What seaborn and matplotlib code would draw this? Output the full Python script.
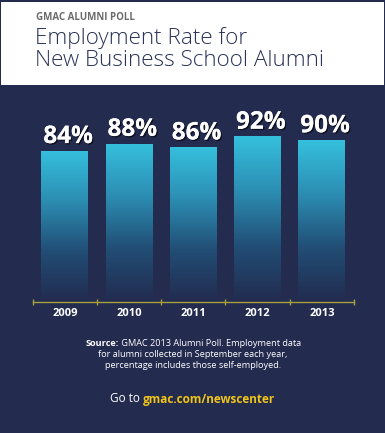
import numpy as np
import pandas as pd
import matplotlib
matplotlib.use("Agg")
import matplotlib.pyplot as plt
import matplotlib.patheffects as pe
from matplotlib.colors import LinearSegmentedColormap
from matplotlib.patches import Rectangle
import seaborn as sns

# datos
years = ["2009", "2010", "2011", "2012", "2013"]
rates = [84, 88, 86, 92, 90]
rate_labels = ["84%", "88%", "86%", "92%", "90%"]

bg = "#232b4f"
navy_text = "#2b3358"
bar_top = "#35c0dd"
gold = "#a59f3c"

sns.set_theme(style="white")
plt.rcParams['font.family'] = ['Open Sans', 'DejaVu Sans']

fig = plt.figure(figsize=(3.85, 4.33), dpi=100, facecolor=bg)

# cabecera blanca
fig.patches.append(Rectangle((1 / 385, 1 - 85 / 433), 383 / 385, 83 / 433,
                             transform=fig.transFigure, facecolor="white",
                             edgecolor="none", zorder=0))
fig.text(36 / 385, 1 - 17 / 433, "GMAC ALUMNI POLL", color="#6b6b6b",
         fontsize=7, fontweight="bold", va="center", ha="left")
fig.text(35 / 385, 1 - 38 / 433, "Employment Rate for", color=navy_text,
         fontsize=16.2, fontweight="light", va="center", ha="left")
fig.text(35 / 385, 1 - 60 / 433, "New Business School Alumni", color=navy_text,
         fontsize=16.2, fontweight="light", va="center", ha="left")

# grafico de barras
ax = fig.add_axes([32.7 / 385, 1 - 302 / 433, 321.3 / 385, 192 / 433])
ax.set_facecolor(bg)
df = pd.DataFrame({"year": years, "rate": rates})
sns.barplot(data=df, x="year", y="rate", ax=ax, width=0.73,
            color=bar_top, saturation=1, edgecolor="none")

# degradado en cada barra
cmap = LinearSegmentedColormap.from_list("g", [bg, "#214d75", "#2c8db2", bar_top], N=512)
grad = np.linspace(0, 1, 400).reshape(-1, 1)
for p in ax.patches:
    x0, y0 = p.get_x(), p.get_y()
    w, h = p.get_width(), p.get_height()
    im = ax.imshow(grad, cmap=cmap, origin="lower", aspect="auto",
                   interpolation="bilinear",
                   extent=[x0, x0 + w, y0, y0 + h], zorder=2)
    im.set_clip_path(p)
    p.set_alpha(0)
ax.set_xlim(-0.5, 4.5)
ax.set_ylim(0, 106.7)

for i, (v, lab) in enumerate(zip(rates, rate_labels)):
    ax.text(i + 0.05, v + 1.0, lab, ha="center", va="bottom", color="white",
            fontsize=17.5, fontweight="bold", zorder=5,
            path_effects=[pe.withSimplePatchShadow(offset=(1, -1), shadow_rgbFace="black", alpha=0.6),
                          pe.Normal()])

for s in ["top", "right", "left"]:
    ax.spines[s].set_visible(False)
ax.spines["bottom"].set_color(gold)
ax.spines["bottom"].set_linewidth(1)
ax.set_yticks([])
ax.set_xticks(range(5))
ax.set_xticks(np.arange(-0.5, 5, 1), minor=True)
ax.tick_params(axis="x", which="major", length=0, pad=4, labelcolor="white",
               labelsize=8)
ax.tick_params(axis="x", which="minor", length=5, direction="inout",
               color=gold, width=1, bottom=True)
for t in ax.get_xticklabels():
    t.set_fontweight("bold")
ax.set_xlabel("")
ax.set_ylabel("")

# fuente y enlace
fig.canvas.draw()
fs = 6.6
y1 = 1 - 343 / 433
s1 = fig.text(0, y1, "Source:", color="white", fontsize=fs,
              fontweight="bold", ha="left", va="center")
s2 = fig.text(0, y1, " GMAC 2013 Alumni Poll. Employment data", color="white",
              fontsize=fs, ha="left", va="center")
fig.canvas.draw()
w1 = s1.get_window_extent().width
w2 = s2.get_window_extent().width
start = 193 - (w1 + w2) / 2
s1.set_x(start / 385)
s2.set_x((start + w1) / 385)
fig.text(193 / 385, 1 - 354.5 / 433, "for alumni collected in September each year,",
         color="white", fontsize=fs, ha="center", va="center")
fig.text(193 / 385, 1 - 366 / 433, "percentage includes those self-employed.",
         color="white", fontsize=fs, ha="center", va="center")

t1 = fig.text(110 / 385, 1 - 399 / 433, "Go to ", color="white",
              fontsize=8.5, ha="left", va="center")
fig.canvas.draw()
bb = t1.get_window_extent()
fig.text(bb.x1 / 385, 1 - 399 / 433, "gmac.com/newscenter", color="#f0c419",
         fontsize=8.5, fontweight="bold", ha="left", va="center")

fig.savefig("out.png", dpi=100, facecolor=bg)
